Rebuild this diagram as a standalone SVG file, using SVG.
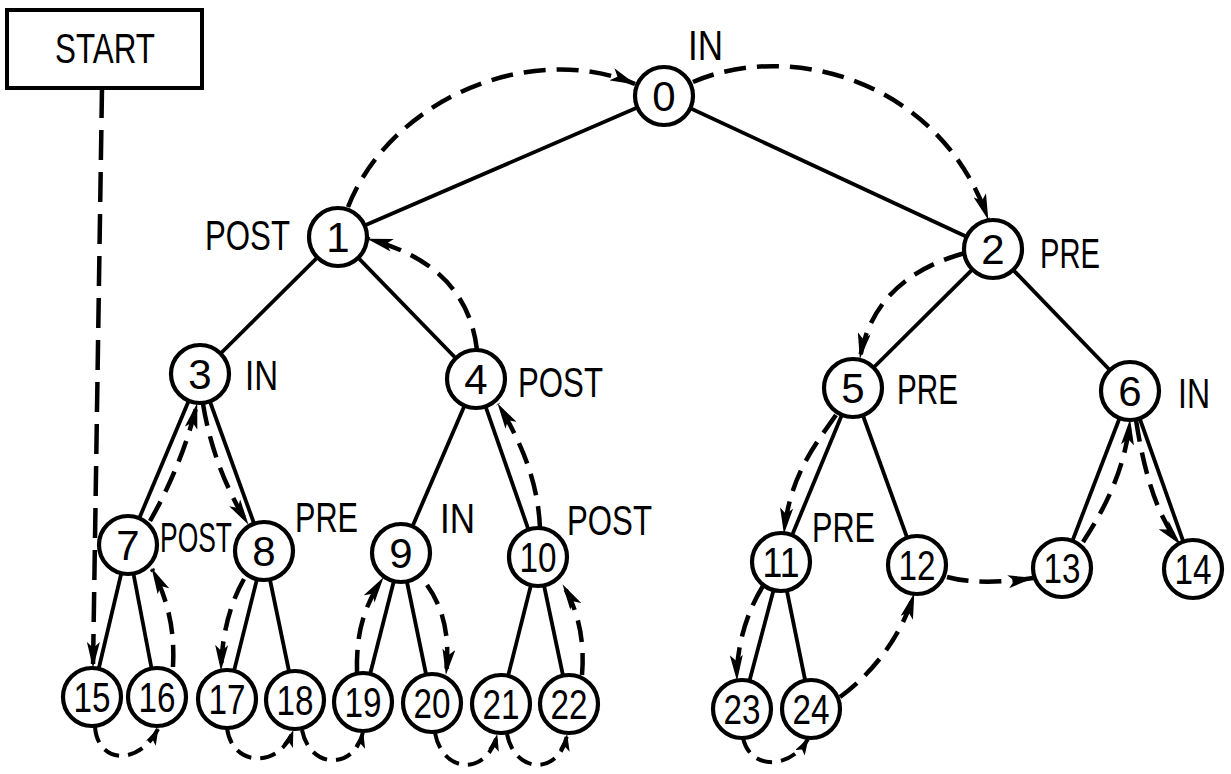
<svg xmlns="http://www.w3.org/2000/svg" width="1231" height="774" viewBox="0 0 1231 774">
<defs>
<style>
.edge{stroke:#000;stroke-width:3.8;fill:none}
.trav{stroke:#000;stroke-width:4.5;fill:none;stroke-dasharray:22 11;marker-end:url(#arr)}
.travs{stroke:#000;stroke-width:4;fill:none;stroke-dasharray:16 9;marker-end:url(#arrs)}
.node circle{fill:#fff;stroke:#000;stroke-width:4.2}
.num{font-family:"Liberation Sans",Arial,sans-serif;font-size:42px;fill:#000;text-anchor:middle}
.lbl{font-family:"Liberation Sans",Arial,sans-serif;font-size:42px;fill:#000}
</style>
<marker id="arr" viewBox="0 0 26 13" refX="25" refY="6.5" markerWidth="26" markerHeight="13" markerUnits="userSpaceOnUse" orient="auto">
<path d="M0,0 L26,6.5 L0,13 L6,6.5 z" fill="#000"/>
</marker>
<marker id="arrs" viewBox="0 0 17 11" refX="16" refY="5.5" markerWidth="17" markerHeight="11" markerUnits="userSpaceOnUse" orient="auto">
<path d="M0,0 L17,5.5 L0,11 L4,5.5 z" fill="#000"/>
</marker>
</defs>
<rect width="1231" height="774" fill="#fff"/>

<g id="connectors">
<g id="tree-edges">
<line class="edge" x1="664" y1="96" x2="338" y2="237"/>
<line class="edge" x1="664" y1="96" x2="993" y2="249"/>
<line class="edge" x1="338" y1="237" x2="200" y2="374"/>
<line class="edge" x1="338" y1="237" x2="476" y2="379"/>
<line class="edge" x1="993" y1="249" x2="853" y2="388"/>
<line class="edge" x1="993" y1="249" x2="1130" y2="391"/>
<line class="edge" x1="200" y1="374" x2="128" y2="545"/>
<line class="edge" x1="200" y1="374" x2="264" y2="551"/>
<line class="edge" x1="476" y1="379" x2="401" y2="553"/>
<line class="edge" x1="476" y1="379" x2="538" y2="557"/>
<line class="edge" x1="853" y1="388" x2="781" y2="562"/>
<line class="edge" x1="853" y1="388" x2="917" y2="565"/>
<line class="edge" x1="1130" y1="391" x2="1062" y2="568"/>
<line class="edge" x1="1130" y1="391" x2="1193" y2="569"/>
<line class="edge" x1="128" y1="545" x2="92" y2="697"/>
<line class="edge" x1="128" y1="545" x2="157" y2="697"/>
<line class="edge" x1="264" y1="551" x2="227" y2="699"/>
<line class="edge" x1="264" y1="551" x2="295" y2="700"/>
<line class="edge" x1="401" y1="553" x2="363" y2="702"/>
<line class="edge" x1="401" y1="553" x2="432" y2="703"/>
<line class="edge" x1="538" y1="557" x2="501" y2="704"/>
<line class="edge" x1="538" y1="557" x2="569" y2="704"/>
<line class="edge" x1="781" y1="562" x2="742" y2="709"/>
<line class="edge" x1="781" y1="562" x2="811" y2="709"/>
</g>
<g id="traversal">
<path class="trav" style="stroke-dasharray:30 12" d="M102 88 L93 667"/>
<path class="travs" d="M95 727 C98 765 140 765 158 729"/>
<path class="trav" d="M173 667 C175 630 168 600 152 569"/>
<path class="trav" d="M150 521 Q182 465 197 404"/>
<path class="trav" d="M203 404 Q214 470 248 524"/>
<path class="trav" d="M244 579 C232 600 222 630 221 670"/>
<path class="travs" d="M227 728 C232 768 280 768 293 731"/>
<path class="travs" d="M302 730 C310 770 355 770 363 732"/>
<path class="trav" d="M357 672 C356 630 365 605 383 578"/>
<path class="trav" d="M427 585 C445 610 450 640 446 674"/>
<path class="travs" d="M435 733 C443 775 488 775 497 735"/>
<path class="travs" d="M507 734 C515 775 560 775 567 735"/>
<path class="trav" d="M582 675 C585 640 578 610 563 585"/>
<path class="trav" d="M540 528 C538 480 520 440 498 404"/>
<path class="trav" d="M477 350 C470 290 430 255 368 239"/>
<path class="trav" d="M348 207 C390 100 530 40 635 84"/>
<path class="trav" d="M693 82 C790 40 940 80 988 219"/>
<path class="trav" d="M965 253 C910 268 870 300 860 358"/>
<path class="trav" d="M836 415 C815 445 790 475 784 533"/>
<path class="trav" d="M763 586 C748 610 736 645 737 680"/>
<path class="travs" d="M743 738 C750 770 790 770 808 739"/>
<path class="trav" d="M840 697 C870 675 900 640 914 594"/>
<path class="trav" d="M947 577 Q980 586 1033 578"/>
<path class="trav" d="M1083 542 C1105 508 1125 470 1130 420"/>
<path class="trav" d="M1136 420 C1143 465 1155 515 1180 544"/>
</g>
</g>

<g id="start">
<rect x="7" y="10" width="195" height="78" fill="#fff" stroke="#000" stroke-width="4"/>
<text class="lbl" x="55" y="63" textLength="100" lengthAdjust="spacingAndGlyphs">START</text>
</g>

<g id="n0" class="node"><circle cx="664" cy="96" r="29"/><text class="num" x="664" y="111">0</text><text class="lbl" x="688" y="60" textLength="35" lengthAdjust="spacingAndGlyphs">IN</text></g>
<g id="n1" class="node"><circle cx="338" cy="237" r="29"/><text class="num" x="338" y="252">1</text><text class="lbl" x="205" y="250" textLength="85" lengthAdjust="spacingAndGlyphs">POST</text></g>
<g id="n2" class="node"><circle cx="993" cy="249" r="29"/><text class="num" x="993" y="264">2</text><text class="lbl" x="1040" y="268" textLength="60" lengthAdjust="spacingAndGlyphs">PRE</text></g>
<g id="n3" class="node"><circle cx="200" cy="374" r="29"/><text class="num" x="200" y="389">3</text><text class="lbl" x="245" y="390" textLength="33" lengthAdjust="spacingAndGlyphs">IN</text></g>
<g id="n4" class="node"><circle cx="476" cy="379" r="29"/><text class="num" x="476" y="394">4</text><text class="lbl" x="518" y="397" textLength="85" lengthAdjust="spacingAndGlyphs">POST</text></g>
<g id="n5" class="node"><circle cx="853" cy="388" r="29"/><text class="num" x="853" y="403">5</text><text class="lbl" x="897" y="404" textLength="61" lengthAdjust="spacingAndGlyphs">PRE</text></g>
<g id="n6" class="node"><circle cx="1130" cy="391" r="29"/><text class="num" x="1130" y="406">6</text><text class="lbl" x="1178" y="408" textLength="32" lengthAdjust="spacingAndGlyphs">IN</text></g>
<g id="n7" class="node"><circle cx="128" cy="545" r="29"/><text class="num" x="128" y="560">7</text><text class="lbl" transform="translate(160 552) scale(0.63 1)" x="0" y="0">POST</text></g>
<g id="n8" class="node"><circle cx="264" cy="551" r="29"/><text class="num" x="264" y="566">8</text><text class="lbl" x="295" y="532" textLength="63" lengthAdjust="spacingAndGlyphs">PRE</text></g>
<g id="n9" class="node"><circle cx="401" cy="553" r="29"/><text class="num" x="401" y="568">9</text><text class="lbl" x="440" y="533" textLength="35" lengthAdjust="spacingAndGlyphs">IN</text></g>
<g id="n10" class="node"><circle cx="538" cy="557" r="29"/><text class="num" x="538" y="572" textLength="37" lengthAdjust="spacingAndGlyphs">10</text><text class="lbl" x="567" y="535" textLength="85" lengthAdjust="spacingAndGlyphs">POST</text></g>
<g id="n11" class="node"><circle cx="781" cy="562" r="29"/><text class="num" x="781" y="577" textLength="37" lengthAdjust="spacingAndGlyphs">11</text><text class="lbl" x="812" y="542" textLength="63" lengthAdjust="spacingAndGlyphs">PRE</text></g>
<g id="n12" class="node"><circle cx="917" cy="565" r="29"/><text class="num" x="917" y="580" textLength="37" lengthAdjust="spacingAndGlyphs">12</text></g>
<g id="n13" class="node"><circle cx="1062" cy="568" r="29"/><text class="num" x="1062" y="583" textLength="37" lengthAdjust="spacingAndGlyphs">13</text></g>
<g id="n14" class="node"><circle cx="1193" cy="569" r="29"/><text class="num" x="1193" y="584" textLength="37" lengthAdjust="spacingAndGlyphs">14</text></g>
<g id="n15" class="node"><circle cx="92" cy="697" r="29"/><text class="num" x="92" y="712" textLength="37" lengthAdjust="spacingAndGlyphs">15</text></g>
<g id="n16" class="node"><circle cx="157" cy="697" r="29"/><text class="num" x="157" y="712" textLength="37" lengthAdjust="spacingAndGlyphs">16</text></g>
<g id="n17" class="node"><circle cx="227" cy="699" r="29"/><text class="num" x="227" y="714" textLength="37" lengthAdjust="spacingAndGlyphs">17</text></g>
<g id="n18" class="node"><circle cx="295" cy="700" r="29"/><text class="num" x="295" y="715" textLength="37" lengthAdjust="spacingAndGlyphs">18</text></g>
<g id="n19" class="node"><circle cx="363" cy="702" r="29"/><text class="num" x="363" y="717" textLength="37" lengthAdjust="spacingAndGlyphs">19</text></g>
<g id="n20" class="node"><circle cx="432" cy="703" r="29"/><text class="num" x="432" y="718" textLength="37" lengthAdjust="spacingAndGlyphs">20</text></g>
<g id="n21" class="node"><circle cx="501" cy="704" r="29"/><text class="num" x="501" y="719" textLength="37" lengthAdjust="spacingAndGlyphs">21</text></g>
<g id="n22" class="node"><circle cx="569" cy="704" r="29"/><text class="num" x="569" y="719" textLength="37" lengthAdjust="spacingAndGlyphs">22</text></g>
<g id="n23" class="node"><circle cx="742" cy="709" r="29"/><text class="num" x="742" y="724" textLength="37" lengthAdjust="spacingAndGlyphs">23</text></g>
<g id="n24" class="node"><circle cx="811" cy="709" r="29"/><text class="num" x="811" y="724" textLength="37" lengthAdjust="spacingAndGlyphs">24</text></g>
</svg>
